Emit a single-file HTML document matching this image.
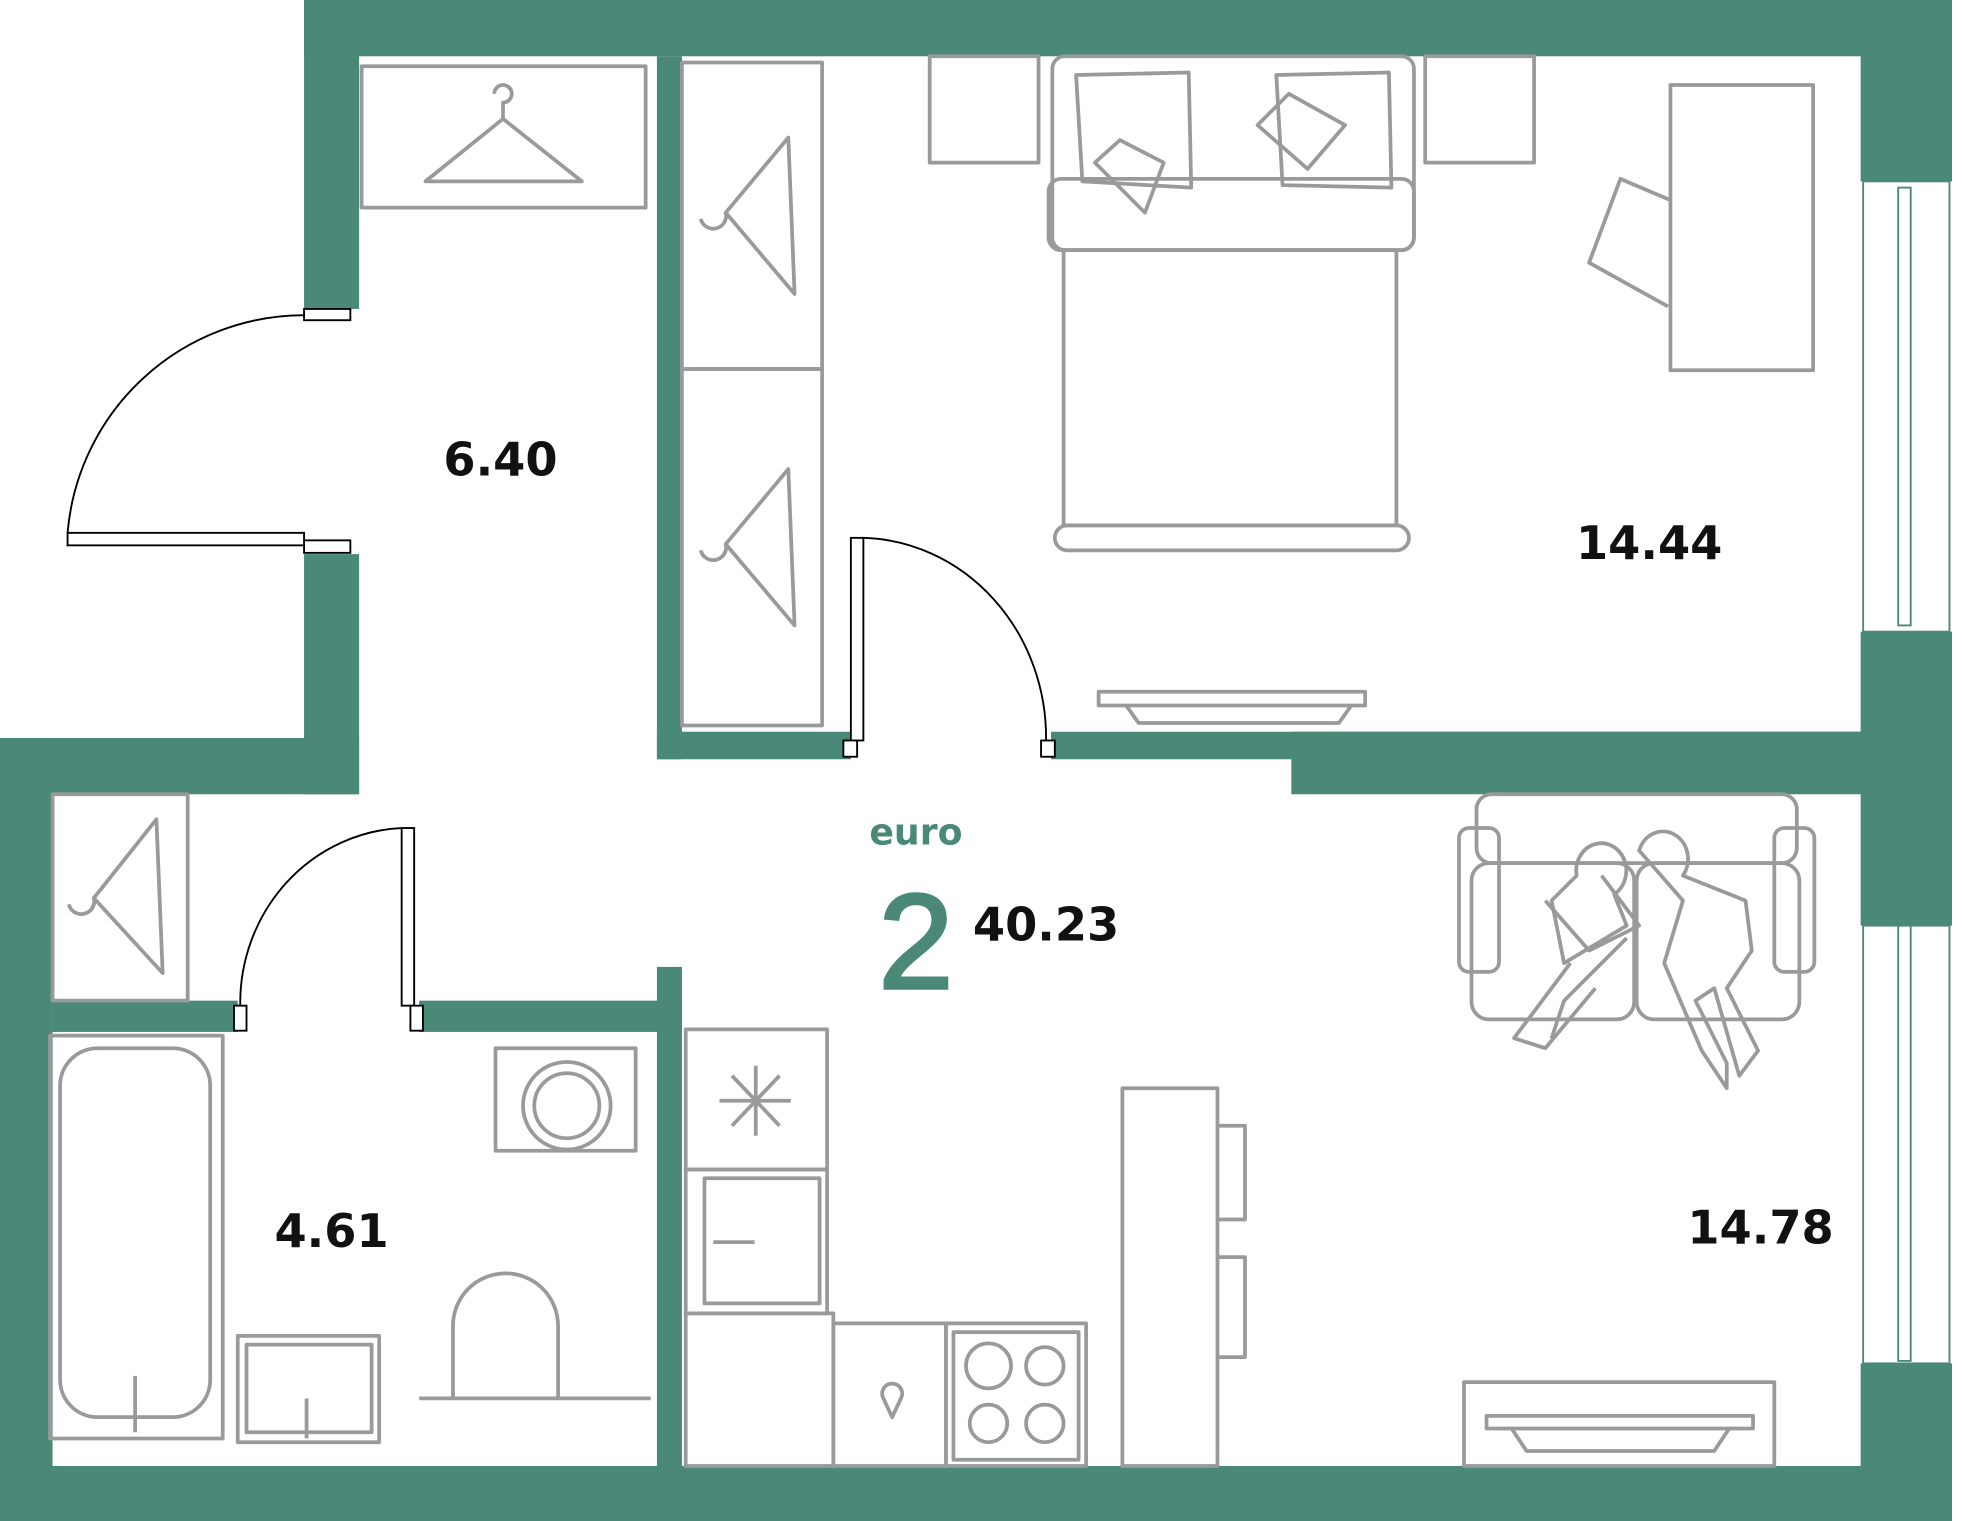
<!DOCTYPE html>
<html><head><meta charset="utf-8"><style>
html,body{margin:0;padding:0;background:#fff;}
svg{display:block;}
</style></head><body>
<svg width="1962" height="1521" viewBox="0 0 1568 1216" preserveAspectRatio="none" xmlns="http://www.w3.org/2000/svg">
<g fill="#4a8878">
<rect x="243" y="0" width="1317" height="45"/>
<rect x="243" y="0" width="44" height="247"/>
<rect x="243" y="443" width="44" height="192"/>
<rect x="0" y="590" width="287" height="45"/>
<rect x="0" y="590" width="42" height="626"/>
<rect x="0" y="1172" width="1560" height="44"/>
<rect x="1487" y="0" width="73" height="145"/>
<rect x="1487" y="505" width="73" height="235"/>
<rect x="1487" y="1090" width="73" height="126"/>
<rect x="525" y="45" width="20" height="562"/>
<rect x="525" y="585" width="155" height="22"/>
<rect x="840" y="585" width="720" height="22"/>
<rect x="1032" y="585" width="528" height="50"/>
<rect x="42" y="800" width="148" height="25"/>
<rect x="335" y="800" width="210" height="25"/>
<rect x="525" y="773" width="20" height="443"/>
</g>
<g fill="none" stroke="#4a8878" stroke-width="1.5">
<rect x="1489" y="145" width="69" height="360"/>
<rect x="1517" y="150" width="10" height="350"/>
<rect x="1489" y="740" width="69" height="350"/>
<rect x="1517" y="738" width="10" height="350"/>
</g>
<g fill="#fff" stroke="#000" stroke-width="1.5">
<rect x="243" y="247" width="37" height="9"/>
<rect x="243" y="432" width="37" height="10"/>
<rect x="54" y="426" width="189" height="10"/>
<path d="M243 252 A190 190 0 0 0 54 426" fill="none"/>
<rect x="680" y="430" width="10" height="162"/>
<rect x="674" y="592" width="11" height="13"/>
<rect x="832" y="592" width="11" height="13"/>
<path d="M690 430 A150 160 0 0 1 836 592" fill="none"/>
<rect x="321" y="662" width="10" height="142"/>
<rect x="328" y="804" width="10" height="20"/>
<rect x="187" y="804" width="10" height="20"/>
<path d="M321 662 A135 140 0 0 0 192 804" fill="none"/>
</g>
<g fill="none" stroke="#999a9c" stroke-width="3" stroke-linejoin="round">
<rect x="289" y="53" width="227" height="113"/>
<path d="M340 145 L402 95 L465 145 Z M402 95 V82 a7 7 0 1 0 -7 -7"/>
<rect x="545" y="50" width="112" height="245"/>
<rect x="545" y="295" width="112" height="285"/>
<path d="M580 170 L630 110 L635 235 Z M580 170 a10 10 0 1 1 -20 5"/>
<path d="M580 435 L630 375 L635 500 Z M580 435 a10 10 0 1 1 -20 5"/>
<rect x="743" y="45" width="87" height="85"/>
<rect x="1139" y="45" width="87" height="85"/>
<rect x="841" y="45" width="289" height="155" rx="10"/>
<rect x="838" y="143" width="292" height="57" rx="10"/>
<rect x="850" y="200" width="266" height="220"/>
<rect x="843" y="420" width="283" height="20" rx="10"/>
<path d="M860 60 L950 58 L952 150 L865 145 Z M1020 60 L1110 58 L1112 150 L1025 148 Z"/>
<path d="M875 130 L895 112 L930 130 L915 170 Z M1005 100 L1030 75 L1075 100 L1045 135 Z"/>
<rect x="1335" y="68" width="114" height="228"/>
<path d="M1335 160 L1295 143 L1270 210 L1333 245"/>
<rect x="878" y="553" width="213" height="11"/>
<path d="M900 564 L910 578 H1070 L1080 564"/>
<rect x="42" y="635" width="108" height="165"/>
<path d="M75 718 L125 655 L130 778 Z M75 718 a10 10 0 1 1 -20 5"/>
<rect x="40" y="828" width="138" height="322"/>
<rect x="48" y="838" width="120" height="295" rx="30"/>
<path d="M108 1100 V1145"/>
<rect x="190" y="1068" width="113" height="85"/>
<rect x="197" y="1075" width="100" height="70"/>
<path d="M245 1118 V1150"/>
<path d="M362 1118 V1060 a42 42 0 0 1 84 0 V1118 Z M335 1118 H520"/>
<rect x="396" y="838" width="112" height="82"/>
<circle cx="453" cy="884" r="35"/><circle cx="453" cy="884" r="26"/>
<rect x="548" y="823" width="113" height="112"/>
<path d="M575 880 H632 M604 852 V908 M585 860 L623 900 M623 860 L585 900"/>
<rect x="548" y="935" width="113" height="115"/>
<rect x="563" y="942" width="92" height="100"/>
<path d="M570 993 H603"/>
<rect x="548" y="1050" width="118" height="122"/>
<rect x="666" y="1058" width="90" height="114"/>
<rect x="756" y="1058" width="112" height="114"/>
<rect x="762" y="1065" width="100" height="102"/>
<circle cx="790" cy="1092" r="18"/><circle cx="835" cy="1092" r="15"/>
<circle cx="790" cy="1138" r="15"/><circle cx="835" cy="1138" r="15"/>
<path d="M706 1118 a8 8 0 1 1 14 0 L713 1133 Z"/>
<rect x="897" y="870" width="76" height="302"/>
<path d="M973 900 H995 V975 H973 M973 1005 H995 V1085 H973"/>
<rect x="1170" y="1105" width="248" height="67"/>
<rect x="1188" y="1132" width="213" height="10"/>
<path d="M1208 1142 L1220 1160 H1370 L1382 1142"/>
<rect x="1180" y="635" width="256" height="55" rx="12"/>
<rect x="1166" y="662" width="32" height="115" rx="8"/>
<rect x="1418" y="662" width="32" height="115" rx="8"/>
<rect x="1176" y="690" width="130" height="125" rx="14"/>
<rect x="1308" y="690" width="130" height="125" rx="14"/>
<path d="M1260 700 a20 22 0 1 1 30 15 L1300 740 L1250 770 L1240 720 Z M1235 720 L1270 760 L1310 740 L1280 700 M1255 770 L1210 830 L1235 838 L1275 790 M1300 750 L1250 800 L1240 830"/>
<path d="M1310 680 a20 22 0 1 1 35 20 L1395 720 L1400 760 L1380 790 L1405 840 L1390 860 L1370 790 L1355 800 L1380 850 L1380 870 L1360 840 L1330 770 L1345 720 Z"/>
</g>
<g font-family="'DejaVu Sans', 'Liberation Sans', sans-serif" font-weight="bold" fill="#111" text-anchor="middle">
<text x="400" y="380" font-size="37">6.40</text>
<text x="1318" y="447" font-size="37">14.44</text>
<text x="265" y="997" font-size="37">4.61</text>
<text x="1407" y="994" font-size="37">14.78</text>
<text x="836" y="752" font-size="37">40.23</text>
<text x="732" y="675" font-size="29" fill="#4a8878">euro</text>
</g>
<text x="732" y="790" font-family="'Liberation Sans', sans-serif" font-size="108" fill="#4a8878" stroke="#4a8878" stroke-width="2.5" text-anchor="middle">2</text>
</svg>
</body></html>
